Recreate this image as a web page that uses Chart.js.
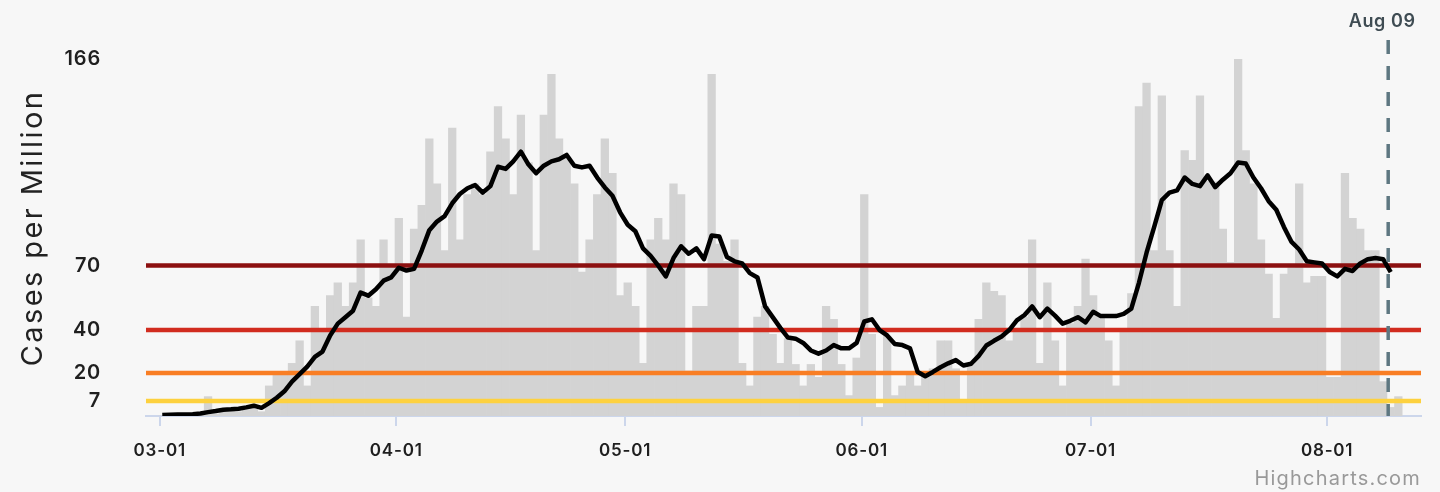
<!DOCTYPE html>
<html>
<head>
<meta charset="utf-8">
<script src="https://cdn.jsdelivr.net/npm/chart.js@4.4.0/dist/chart.umd.min.js"></script>
<style>
  html, body { margin: 0; padding: 0; background: #f7f7f7; }
  #wrap { width: 1440px; height: 492px; }
</style>
</head>
<body>
<div id="wrap"><canvas id="chart" width="1440" height="492"></canvas></div>
<script>
// daily new cases per million, index 0 = 03-01 (last one = 08-10)
const dailyCases = [
    0, 0.5, 0.5, 0.5, 1, 1, 9, 1, 2, 3, 2, 3, 4, 2,
    14, 19, 19, 24.5, 35, 14, 51, 40, 56, 62, 51, 62, 82, 55, 51, 82, 70,
    92, 46, 87, 98, 129, 108, 77, 134, 82, 103, 108, 103, 123, 144, 129, 103, 140, 118, 77,
    140, 159, 129, 120, 108, 67, 82, 103, 129, 113, 56, 62, 51, 24.5, 82, 92, 82, 108, 103, 21,
    51, 51, 159, 80, 72, 82, 24.5, 14, 46, 51, 38, 24.5, 36, 24, 14, 24, 18, 51, 45, 24,
    9.5, 27, 103, 38, 4, 37, 9.5, 14, 20, 14, 19, 22, 35, 35, 22, 6, 24, 45, 62, 58,
    56, 35, 40, 46, 82, 24.5, 62, 35, 14, 43, 51, 73, 56, 46, 35, 14, 40, 57, 144, 155,
    77, 149, 77, 51, 123.5, 119, 149, 109.5, 109, 87, 71.5, 166, 123.5, 108, 82, 66, 45.5, 66, 69, 108,
    62, 65, 65, 18, 18, 113, 92, 87, 77, 77, 16, 4, 9
];

// 7-day average, index 0 = 03-01 (last one = 08-09)
const rollingAvg = [
    0.5, 0.6, 0.7, 0.7, 0.8, 1.2, 1.8, 2.3, 2.9, 3.1, 3.4, 4, 4.8, 3.8,
    6, 8.5, 11.5, 16, 19.5, 23, 27.5, 30, 37.5, 43, 46, 49, 57.5, 56, 59, 63, 64.5,
    69, 67.7, 68.5, 77, 86.5, 90.5, 93, 99, 103.3, 106, 107.5, 104, 107, 116, 115, 118.5, 123, 117, 113,
    116.5, 118.5, 119.5, 121.5, 116.5, 115.7, 116.5, 111, 106.4, 102.5, 94.8, 89, 86, 78, 74.5, 70, 65, 73.5, 79, 75.5,
    78, 73, 84, 83.5, 74, 72, 71, 66.5, 64.5, 51, 46, 41, 36.5, 36, 34, 30.5, 29, 30.5, 33, 31.5,
    31.5, 34, 44, 45, 40, 37.5, 33.5, 33, 31.5, 20.5, 18.5, 20.5, 22.7, 24.5, 26, 23.5, 24.3, 28, 32.8, 35,
    37, 40, 44.5, 47, 51, 46, 50, 46.7, 43, 44.3, 46, 43.6, 48.5, 46.5, 46.5, 46.5, 47.5, 50, 62, 76,
    88, 100.5, 104, 105, 111, 108, 107, 112, 106.5, 110, 113, 118, 117.5, 111, 106, 100, 96, 88, 81, 77.5,
    72, 71.5, 71, 67, 65, 68.5, 67.5, 71, 73, 73.5, 73, 67
];

const thresholds = [7, 20, 40, 70];
const thresholdColors = ['#fdd13f', '#f97e24', '#d12c1f', '#8c1010'];
const yTicks = [7, 20, 40, 70, 166];
const monthDays = [0, 31, 61, 92, 122, 153];
const monthLabels = ['03-01', '04-01', '05-01', '06-01', '07-01', '08-01'];
const markerDay = 161;
const markerLabel = 'Aug 09';

// data points are stamped a few hours after local midnight
const stampShift = 8 / 24;

const FONT = 'Inter, "Open Sans", sans-serif';

const overlay = {
    id: 'overlay',
    beforeDraw(chart) {
        chart.ctx.letterSpacing = '0.8px';
    },
    beforeDatasetDraw(chart, args) {
        if (args.meta.type !== 'line') return;
        const { ctx, chartArea: a } = chart;
        const y = chart.scales.y;
        ctx.save();
        ctx.lineWidth = 4.5;
        thresholds.forEach((t, i) => {
            const py = y.getPixelForValue(t);
            ctx.strokeStyle = thresholdColors[i];
            ctx.beginPath();
            ctx.moveTo(a.left, py);
            ctx.lineTo(a.right, py);
            ctx.stroke();
        });
        ctx.restore();
    },
    afterDatasetsDraw(chart) {
        const { ctx, chartArea: a } = chart;
        const px = chart.scales.x.getPixelForValue(markerDay);
        ctx.save();
        ctx.strokeStyle = '#5e7781';
        ctx.lineWidth = 3.5;
        ctx.setLineDash([14, 12]);
        ctx.beginPath();
        ctx.moveTo(px, a.top);
        ctx.lineTo(px, a.bottom);
        ctx.stroke();
        ctx.setLineDash([]);

        ctx.fillStyle = '#3f4c53';
        ctx.font = '600 18px ' + FONT;
        ctx.letterSpacing = '0.6px';
        ctx.textAlign = 'center';
        ctx.fillText(markerLabel, px - 6, a.top - 13);
        ctx.restore();
    },
    afterDraw(chart) {
        const { ctx, chartArea: a } = chart;
        ctx.save();
        // y axis title
        ctx.translate(33, (a.top + a.bottom) / 2);
        ctx.rotate(-Math.PI / 2);
        ctx.fillStyle = '#222222';
        ctx.font = '400 29px ' + FONT;
        ctx.letterSpacing = '2.4px';
        ctx.textAlign = 'center';
        ctx.textBaseline = 'middle';
        ctx.fillText('Cases per Million', 0, 0);
        ctx.restore();

        ctx.save();
        ctx.fillStyle = '#999999';
        ctx.font = '400 20px ' + FONT;
        ctx.letterSpacing = '1.2px';
        ctx.textAlign = 'right';
        ctx.fillText('Highcharts.com', 1421, 485);
        ctx.restore();
        ctx.letterSpacing = '0px';
    }
};

const ctx = document.getElementById('chart').getContext('2d');
const chart = new Chart(ctx, {
    type: 'bar',
    data: {
        datasets: [
            {
                type: 'line',
                label: '7-day average',
                data: rollingAvg.map((v, i) => ({ x: i + stampShift, y: v })),
                borderColor: '#000000',
                borderWidth: 4.5,
                borderJoinStyle: 'round',
                pointRadius: 0,
                tension: 0,
                order: 0
            },
            {
                type: 'bar',
                label: 'Daily',
                data: dailyCases.map((v, i) => ({ x: i + stampShift, y: v })),
                backgroundColor: '#d3d3d3',
                borderWidth: 0,
                barPercentage: 1,
                categoryPercentage: 1,
                order: 1
            }
        ]
    },
    options: {
        responsive: false,
        animation: false,
        devicePixelRatio: 1,
        layout: { padding: { left: 0, right: 19, top: 40, bottom: 0 } },
        plugins: {
            legend: { display: false },
            tooltip: { enabled: false }
        },
        scales: {
            x: {
                type: 'linear',
                offset: false,
                min: -1.8,
                max: 165.3,
                afterFit: s => {
                    s.height = 76;
                    s.paddingLeft = 0;
                    s.paddingRight = 0;
                },
                afterBuildTicks: s => { s.ticks = monthDays.map(v => ({ value: v })); },
                grid: {
                    offset: false,
                    drawOnChartArea: false,
                    drawTicks: true,
                    tickLength: 10,
                    color: '#ccd6eb',
                    lineWidth: 2
                },
                border: { display: true, color: '#ccd6eb', width: 2 },
                ticks: {
                    padding: 15,
                    maxRotation: 0,
                    autoSkip: false,
                    color: '#1f1f1f',
                    font: { family: FONT, size: 17, weight: '600' },
                    callback: v => monthLabels[monthDays.indexOf(v)]
                }
            },
            y: {
                min: 0,
                max: 175,
                afterFit: s => {
                    s.width = 146;
                    s.paddingTop = 0;
                    s.paddingBottom = 0;
                },
                afterBuildTicks: s => { s.ticks = yTicks.map(v => ({ value: v })); },
                grid: { display: false },
                border: { display: false },
                ticks: {
                    padding: 37,
                    color: '#1f1f1f',
                    font: { family: FONT, size: 20, weight: '600' }
                }
            }
        }
    },
    plugins: [overlay]
});
</script>
</body>
</html>
